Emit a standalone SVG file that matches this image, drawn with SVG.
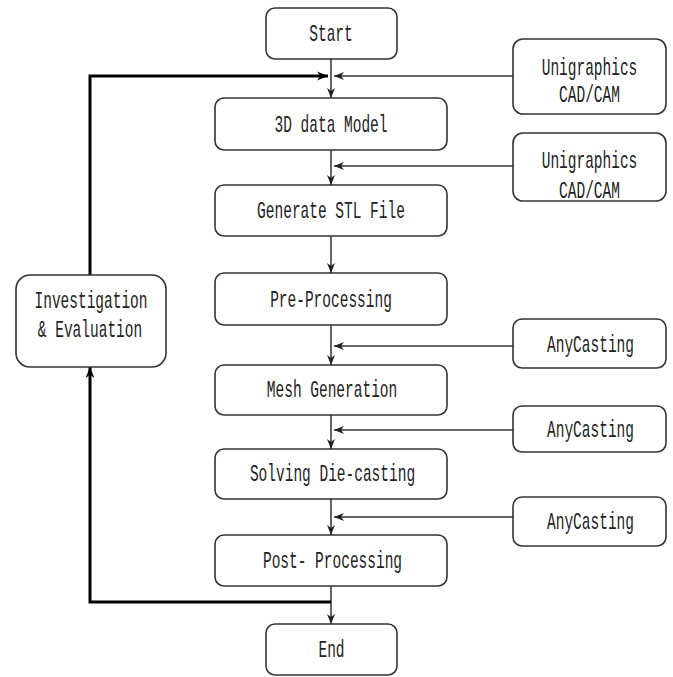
<svg xmlns="http://www.w3.org/2000/svg" width="673" height="677" viewBox="0 0 673 677">
<style>
.box{fill:#fff;stroke:#333;stroke-width:1.6}
.t{font-family:"Liberation Mono",monospace;font-size:14.5px;fill:#222;text-anchor:middle}
.c{fill:none;stroke:#333;stroke-width:1.5}
.k{fill:none;stroke:#000;stroke-width:3}
</style>
<defs>
<marker id="a" viewBox="0 0 10 10" refX="10" refY="5" markerWidth="10" markerHeight="10" markerUnits="userSpaceOnUse" orient="auto">
<path d="M0,1 L10,5 L0,9 L3,5 Z" fill="#222"/>
</marker>
<marker id="ak" viewBox="0 0 10 10" refX="10" refY="5" markerWidth="11" markerHeight="11" markerUnits="userSpaceOnUse" orient="auto">
<path d="M0,1 L10,5 L0,9 L3,5 Z" fill="#000"/>
</marker>
</defs>
<g id="connectors">
<line class="c" x1="331" y1="59" x2="331" y2="98" marker-end="url(#a)"/>
<polyline class="k" points="90,275 90,76 328,76" marker-end="url(#ak)"/>
<line class="c" x1="513" y1="76" x2="334" y2="76" marker-end="url(#a)"/>
<line class="c" x1="331" y1="150" x2="331" y2="185" marker-end="url(#a)"/>
<line class="c" x1="513" y1="166" x2="334" y2="166" marker-end="url(#a)"/>
<line class="c" x1="331" y1="236" x2="331" y2="273" marker-end="url(#a)"/>
<line class="c" x1="331" y1="325" x2="331" y2="365" marker-end="url(#a)"/>
<line class="c" x1="513" y1="346" x2="334" y2="346" marker-end="url(#a)"/>
<line class="c" x1="331" y1="415" x2="331" y2="449" marker-end="url(#a)"/>
<line class="c" x1="513" y1="430" x2="334" y2="430" marker-end="url(#a)"/>
<line class="c" x1="331" y1="499" x2="331" y2="535" marker-end="url(#a)"/>
<line class="c" x1="513" y1="517" x2="334" y2="517" marker-end="url(#a)"/>
<line class="c" x1="331" y1="586" x2="331" y2="624" marker-end="url(#a)"/>
<polyline class="k" points="331,602 90,602 90,367" marker-end="url(#ak)"/>
</g>
<g id="start"><rect class="box" x="266" y="8" width="131" height="51" rx="9"/><text class="t" transform="translate(331,41) scale(1,1.6)">Start</text></g>
<g id="ug1"><rect class="box" x="513" y="39" width="153" height="75" rx="10"/><text class="t" transform="translate(589.5,75) scale(1,1.6)">Unigraphics</text><text class="t" transform="translate(589.5,102) scale(1,1.6)">CAD/CAM</text></g>
<g id="model"><rect class="box" x="215" y="98" width="232" height="52" rx="9"/><text class="t" transform="translate(331,132) scale(1,1.6)">3D data Model</text></g>
<g id="ug2"><rect class="box" x="513" y="133" width="153" height="68" rx="10"/><text class="t" transform="translate(589.5,168) scale(1,1.6)">Unigraphics</text><text class="t" transform="translate(589.5,198) scale(1,1.6)">CAD/CAM</text></g>
<g id="stl"><rect class="box" x="215" y="185" width="232" height="51" rx="9"/><text class="t" transform="translate(331,218) scale(1,1.6)">Generate STL File</text></g>
<g id="pre"><rect class="box" x="215" y="273" width="232" height="52" rx="9"/><text class="t" transform="translate(331,307) scale(1,1.6)">Pre-Processing</text></g>
<g id="inv"><rect class="box" x="16" y="275" width="150" height="92" rx="14"/><text class="t" transform="translate(91,308) scale(1,1.6)">Investigation</text><text class="t" transform="translate(90,337) scale(1,1.6)">&amp; Evaluation</text></g>
<g id="any1"><rect class="box" x="513" y="319" width="153" height="49" rx="9"/><text class="t" transform="translate(590.5,352) scale(1,1.6)">AnyCasting</text></g>
<g id="mesh"><rect class="box" x="215" y="365" width="232" height="50" rx="9"/><text class="t" transform="translate(332,397) scale(1,1.6)">Mesh Generation</text></g>
<g id="any2"><rect class="box" x="513" y="406" width="153" height="46" rx="9"/><text class="t" transform="translate(590.5,437) scale(1,1.6)">AnyCasting</text></g>
<g id="solve"><rect class="box" x="215" y="449" width="232" height="50" rx="9"/><text class="t" transform="translate(332.5,481) scale(1,1.6)">Solving Die-casting</text></g>
<g id="any3"><rect class="box" x="513" y="497" width="153" height="49" rx="9"/><text class="t" transform="translate(590.5,529) scale(1,1.6)">AnyCasting</text></g>
<g id="post"><rect class="box" x="215" y="535" width="232" height="51" rx="9"/><text class="t" transform="translate(332.5,568) scale(1,1.6)">Post- Processing</text></g>
<g id="end"><rect class="box" x="266" y="624" width="131" height="51" rx="9"/><text class="t" transform="translate(331.5,657) scale(1,1.6)">End</text></g>
</svg>
